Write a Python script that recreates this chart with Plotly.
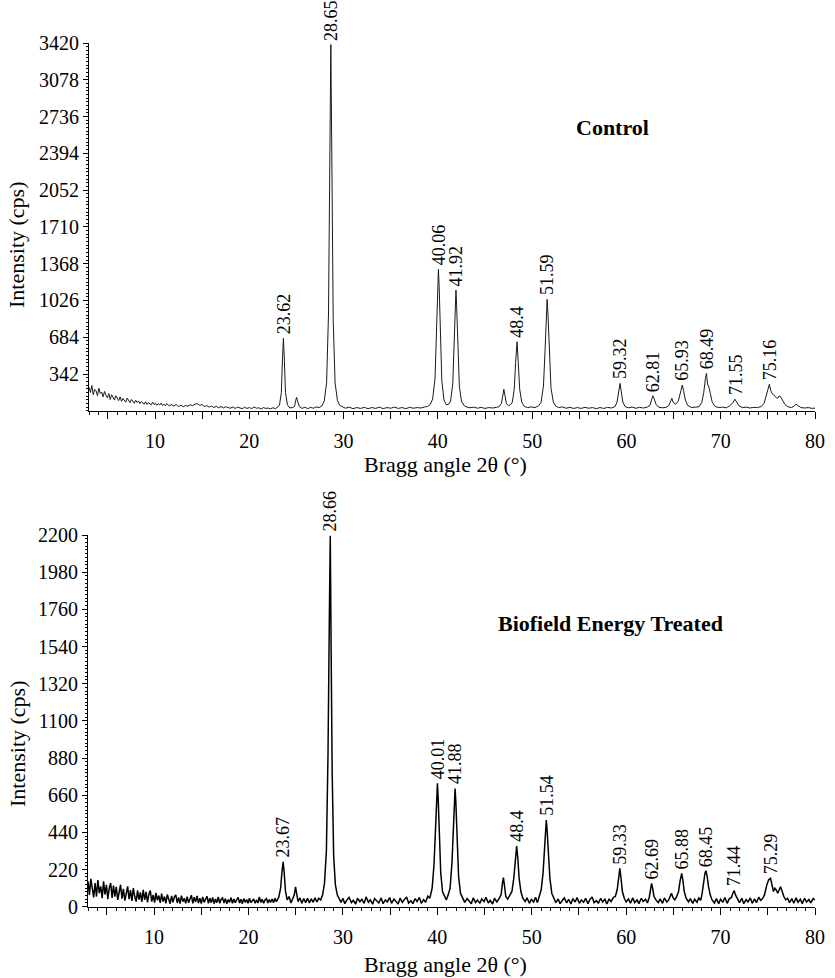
import plotly.graph_objects as go

# ---------------- Control pattern (2theta in degrees, intensity in cps) ----------------
ctrl_theta = [
    3.0, 3.15, 3.3, 3.45, 3.6, 3.75, 3.9, 4.05, 4.2, 4.35,
    4.5, 4.65, 4.8, 4.95, 5.1, 5.25, 5.4, 5.55, 5.7, 5.85,
    6.0, 6.15, 6.3, 6.45, 6.6, 6.75, 6.9, 7.05, 7.2, 7.35,
    7.5, 7.65, 7.8, 7.95, 8.1, 8.25, 8.4, 8.55, 8.7, 8.85,
    9.0, 9.15, 9.3, 9.45, 9.6, 9.75, 9.9, 10.05, 10.2, 10.35,
    10.5, 10.65, 10.8, 10.95, 11.1, 11.25, 11.4, 11.55, 11.7, 11.85,
    12.0, 12.25, 12.5, 12.75, 13.0, 13.25, 13.5, 13.75, 14.0, 14.25,
    14.5, 14.75, 15.0, 15.25, 15.5, 15.75, 16.0, 16.25, 16.5, 16.75,
    17.0, 17.25, 17.5, 17.75, 18.0, 18.25, 18.5, 18.75, 19.0, 19.25,
    19.5, 19.75, 20.0, 20.25, 20.5, 20.75, 21.0, 21.25, 21.5, 21.75,
    22.0, 22.25, 22.5,
    22.8, 23.2, 23.4, 23.52, 23.62, 23.72, 23.84, 24.05, 24.3, 24.6,
    24.8, 24.92, 25.02, 25.12, 25.3, 25.6, 25.9, 26.2, 26.5, 26.8,
    27.1, 27.4, 27.7, 27.95, 28.2, 28.4, 28.55, 28.65, 28.75, 28.9,
    29.1, 29.35, 29.6, 29.9, 30.2, 30.6, 31.0, 31.4, 31.8, 32.2,
    32.6, 33.0, 33.4, 33.8, 34.2, 34.6, 35.0, 35.4, 35.8, 36.2,
    36.6, 37.0, 37.4, 37.8, 38.2, 38.6, 38.9, 39.2, 39.45, 39.7,
    39.88, 40.0, 40.06, 40.14, 40.25, 40.42, 40.65, 40.9, 41.15, 41.35,
    41.58, 41.75, 41.86, 41.92, 41.99, 42.1, 42.28, 42.5, 42.8, 43.1,
    43.4, 43.8, 44.2, 44.6, 45.0, 45.4, 45.8, 46.2, 46.5, 46.75,
    46.9, 47.0, 47.1, 47.28, 47.5, 47.7, 47.9, 48.1, 48.25, 48.4,
    48.52, 48.68, 48.9, 49.15, 49.5, 49.9, 50.3, 50.7, 50.95, 51.2,
    51.38, 51.5, 51.59, 51.68, 51.82, 52.0, 52.25, 52.5, 52.8, 53.2,
    53.6, 54.0, 54.4, 54.8, 55.2, 55.6, 56.0, 56.4, 56.8, 57.2,
    57.6, 58.0, 58.4, 58.8, 59.0, 59.15, 59.32, 59.45, 59.62, 59.85,
    60.2, 60.6, 61.0, 61.4, 61.8, 62.2, 62.5, 62.65, 62.81, 62.95,
    63.15, 63.4, 63.8, 64.2, 64.5, 64.7, 64.82, 64.95, 65.2, 65.5,
    65.7, 65.85, 65.93, 66.05, 66.25, 66.5, 66.9, 67.3, 67.7, 68.0,
    68.2, 68.38, 68.49, 68.6, 68.75, 68.9, 69.1, 69.4, 69.8, 70.2,
    70.6, 70.9, 71.25, 71.5, 71.7, 71.95, 72.3, 72.7, 73.1, 73.5,
    73.9, 74.3, 74.6, 74.85, 75.0, 75.16, 75.3, 75.45, 75.6, 75.75,
    75.9, 76.05, 76.2, 76.35, 76.55, 76.8, 77.1, 77.5, 77.8, 78.0,
    78.2, 78.5, 78.9, 79.3, 79.7, 80.0,
]
ctrl_counts = [
    220, 170, 235, 150, 200, 185, 140, 210, 160, 175,
    130, 180, 145, 120, 160, 105, 150, 125, 100, 140,
    110, 95, 130, 88, 115, 100, 80, 118, 92, 76,
    105, 84, 70, 98, 78, 92, 66, 86, 74, 62,
    84, 60, 76, 68, 56, 80, 58, 70, 52, 66,
    54, 72, 50, 62, 46, 66, 52, 44, 60, 48,
    44, 58, 40, 52, 38, 50, 42, 56, 48, 62,
    66, 50, 58, 40, 48, 34, 44, 30, 42, 28,
    40, 26, 38, 30, 24, 36, 22, 34, 26, 20,
    33, 22, 30, 20, 36, 24, 28, 18, 30, 22,
    26, 18, 28,
    20, 50, 170, 480, 675, 470, 170, 55, 26, 32,
    40, 95, 125, 90, 40, 22, 34, 20, 32, 24,
    36, 30, 45, 90, 260, 900, 2500, 3405, 2400, 850,
    260, 95, 50, 36, 24, 34, 20, 30, 22, 32,
    20, 30, 22, 34, 20, 30, 24, 34, 22, 30,
    20, 32, 24, 30, 26, 36, 40, 60, 110, 300,
    750, 1200, 1315, 1150, 700, 280, 100, 55, 62, 90,
    250, 650, 1020, 1123, 980, 600, 230, 90, 46, 34,
    28, 34, 24, 32, 22, 30, 26, 32, 38, 70,
    150, 200, 150, 65, 48, 56, 80, 200, 450, 642,
    460, 200, 80, 42, 30, 36, 30, 48, 80, 230,
    580, 930, 1036, 900, 520, 210, 80, 44, 30, 36,
    24, 32, 22, 30, 22, 32, 24, 30, 20, 30,
    22, 32, 26, 40, 80, 180, 255, 180, 80, 40,
    28, 34, 24, 32, 26, 34, 50, 100, 140, 110,
    60, 34, 28, 32, 50, 90, 116, 80, 60, 90,
    160, 230, 240, 190, 100, 50, 30, 34, 38, 80,
    170, 300, 348, 250, 220, 160, 80, 40, 30, 34,
    28, 44, 70, 107, 80, 45, 30, 34, 26, 32,
    30, 40, 70, 150, 210, 246, 190, 160, 150, 130,
    120, 118, 138, 132, 100, 60, 38, 30, 44, 63,
    48, 30, 26, 30, 22, 26,
]
ctrl_peak_labels = ["23.62", "28.65", "40.06", "41.92", "48.4", "51.59",
                    "59.32", "62.81", "65.93", "68.49", "71.55", "75.16"]
ctrl_peak_pos = [23.62, 28.65, 40.06, 41.92, 48.4, 51.59,
                 59.32, 62.81, 65.93, 68.49, 71.55, 75.16]
ctrl_peak_height = [675, 3405, 1315, 1123, 642, 1036, 255, 140, 240, 348, 107, 246]

# ---------------- Biofield Energy Treated pattern ----------------
trt_theta = [
    3.0, 3.15, 3.3, 3.45, 3.6, 3.75, 3.9, 4.05, 4.2, 4.35,
    4.5, 4.65, 4.8, 4.95, 5.1, 5.25, 5.4, 5.55, 5.7, 5.85,
    6.0, 6.15, 6.3, 6.45, 6.6, 6.75, 6.9, 7.05, 7.2, 7.35,
    7.5, 7.65, 7.8, 7.95, 8.1, 8.25, 8.4, 8.55, 8.7, 8.85,
    9.0, 9.15, 9.3, 9.45, 9.6, 9.75, 9.9, 10.05, 10.2, 10.35,
    10.5, 10.65, 10.8, 10.95, 11.1, 11.25, 11.4, 11.55, 11.7, 11.85,
    12.0, 12.15, 12.3, 12.45, 12.6, 12.75, 12.9, 13.05, 13.2, 13.35,
    13.5, 13.65, 13.8, 13.95, 14.1, 14.25, 14.4, 14.55, 14.7, 14.85,
    15.0, 15.15, 15.3, 15.45, 15.6, 15.75, 15.9, 16.05, 16.2, 16.35,
    16.5, 16.65, 16.8, 16.95, 17.1, 17.25, 17.4, 17.55, 17.7, 17.85,
    18.0, 18.15, 18.3, 18.45, 18.6, 18.75, 18.9, 19.05, 19.2, 19.35,
    19.5, 19.65, 19.8, 19.95, 20.1, 20.25, 20.4, 20.55, 20.7, 20.85,
    21.0, 21.15, 21.3, 21.45, 21.6, 21.75, 21.9, 22.05, 22.2, 22.35,
    22.5, 22.65, 22.8, 22.95, 23.2, 23.4,
    23.55, 23.67, 23.78, 23.92, 24.1, 24.3, 24.5, 24.7, 24.85, 24.98,
    25.1, 25.25, 25.45, 25.65, 25.85, 26.05, 26.25, 26.45, 26.65, 26.85,
    27.05, 27.25, 27.45, 27.65, 27.85, 28.05, 28.25, 28.42, 28.56, 28.66,
    28.74, 28.86, 29.02, 29.2, 29.4, 29.6, 29.8, 30.0, 30.2, 30.45,
    30.65, 30.9, 31.1, 31.35, 31.55, 31.8, 32.0, 32.25, 32.45, 32.7,
    32.9, 33.15, 33.35, 33.6, 33.8, 34.05, 34.25, 34.5, 34.7, 34.95,
    35.15, 35.4, 35.6, 35.85, 36.05, 36.3, 36.5, 36.75, 36.95, 37.2,
    37.4, 37.65, 37.85, 38.1, 38.3, 38.55, 38.75, 39.0, 39.2, 39.45,
    39.65, 39.82, 39.93, 40.01, 40.09, 40.2, 40.36, 40.55, 40.75, 40.95,
    41.15, 41.35, 41.55, 41.7, 41.8, 41.88, 41.96, 42.08, 42.25, 42.45,
    42.7, 42.9, 43.15, 43.35, 43.6, 43.8, 44.05, 44.25, 44.5, 44.7,
    44.95, 45.15, 45.4, 45.6, 45.85, 46.05, 46.3, 46.5, 46.75, 46.9,
    47.0, 47.1, 47.25, 47.45, 47.7, 47.9, 48.1, 48.25, 48.4, 48.52,
    48.66, 48.85, 49.05, 49.3, 49.5, 49.75, 49.95, 50.2, 50.4, 50.6,
    50.8, 51.0, 51.2, 51.35, 51.46, 51.54, 51.63, 51.76, 51.92, 52.12,
    52.35, 52.55, 52.8, 53.0, 53.25, 53.45, 53.7, 53.9, 54.15, 54.35,
    54.6, 54.8, 55.05, 55.25, 55.5, 55.7, 55.95, 56.15, 56.4, 56.6,
    56.85, 57.05, 57.3, 57.5, 57.75, 57.95, 58.2, 58.4, 58.65, 58.85,
    59.05, 59.2, 59.33, 59.45, 59.6, 59.8, 60.0, 60.25, 60.45, 60.7,
    60.9, 61.15, 61.35, 61.6, 61.8, 62.05, 62.25, 62.45, 62.6, 62.69,
    62.8, 62.95, 63.15, 63.4, 63.6, 63.85, 64.05, 64.3, 64.5, 64.68,
    64.8, 64.95, 65.15, 65.35, 65.55, 65.7, 65.8, 65.88, 66.0, 66.15,
    66.35, 66.6, 66.8, 67.05, 67.25, 67.5, 67.7, 67.9, 68.05, 68.2,
    68.35, 68.45, 68.58, 68.72, 68.9, 69.1, 69.35, 69.55, 69.8, 70.0,
    70.25, 70.45, 70.7, 70.9, 71.15, 71.3, 71.44, 71.58, 71.8, 72.0,
    72.25, 72.45, 72.7, 72.9, 73.15, 73.35, 73.6, 73.8, 74.05, 74.25,
    74.45, 74.65, 74.9, 75.1, 75.29, 75.45, 75.6, 75.75, 75.9, 76.05,
    76.2, 76.35, 76.5, 76.7, 76.9, 77.1, 77.3, 77.55, 77.75, 78.0,
    78.2, 78.45, 78.65, 78.9, 79.1, 79.35, 79.55, 79.8, 80.0,
]
trt_counts = [
    150, 70, 165, 95, 55, 140, 60, 158, 80, 120,
    50, 150, 72, 130, 45, 110, 140, 52, 125, 60,
    118, 40, 95, 130, 48, 105, 36, 90, 120, 45,
    98, 34, 110, 60, 30, 96, 42, 85, 28, 100,
    40, 88, 26, 75, 95, 30, 70, 24, 82, 38,
    66, 22, 78, 30, 60, 20, 72, 44, 18, 64,
    26, 58, 70, 22, 55, 18, 66, 30, 50, 20,
    60, 24, 52, 68, 20, 56, 28, 64, 22, 50,
    18, 58, 26, 48, 62, 20, 50, 24, 55, 18,
    46, 24, 58, 20, 44, 52, 22, 48, 18, 42,
    26, 54, 20, 46, 24, 40, 55, 22, 44, 18,
    48, 26, 42, 20, 50, 24, 38, 46, 20, 40,
    22, 58, 26, 44, 20, 40, 48, 22, 42, 26,
    46, 24, 50, 30, 55, 110,
    210, 266, 200, 90, 40, 60, 22, 45, 70, 118,
    75, 30, 52, 20, 48, 24, 50, 22, 46, 26,
    52, 28, 50, 40, 70, 140, 330, 900, 1700, 2195,
    1600, 800, 300, 130, 70, 48, 26, 50, 18, 42,
    55, 24, 38, 16, 50, 30, 44, 20, 58, 26,
    40, 15, 48, 34, 22, 52, 18, 40, 28, 54,
    20, 45, 32, 16, 50, 26, 42, 58, 22, 36,
    18, 48, 30, 55, 20, 42, 26, 62, 50, 110,
    250, 480, 660, 730, 640, 420, 200, 90, 60, 40,
    70, 110, 260, 480, 640, 700, 620, 400, 180, 80,
    55, 26, 48, 34, 18, 52, 24, 40, 20, 46,
    30, 56, 22, 38, 16, 50, 28, 44, 70, 140,
    172, 130, 60, 45, 70, 90, 170, 280, 359, 290,
    170, 90, 50, 30, 52, 20, 44, 28, 56, 24,
    60, 100, 200, 360, 470, 513, 450, 320, 170, 80,
    50, 24, 46, 18, 38, 52, 22, 44, 16, 48,
    28, 54, 20, 40, 26, 50, 18, 42, 58, 24,
    36, 20, 50, 28, 44, 16, 46, 30, 55, 60,
    100, 180, 227, 170, 90, 50, 28, 46, 20, 52,
    24, 40, 18, 50, 30, 44, 22, 56, 120, 138,
    110, 60, 40, 24, 46, 20, 52, 28, 40, 65,
    79, 55, 40, 60, 90, 150, 190, 197, 160, 90,
    50, 28, 48, 20, 44, 26, 52, 38, 80, 150,
    200, 213, 180, 120, 70, 40, 22, 48, 18, 44,
    26, 54, 20, 45, 55, 80, 95, 70, 40, 24,
    50, 18, 42, 28, 52, 20, 46, 24, 56, 38,
    48, 70, 130, 160, 168, 120, 90, 110, 99, 80,
    105, 118, 95, 60, 40, 50, 24, 48, 20, 52,
    26, 44, 18, 50, 28, 42, 22, 48, 40,
]
trt_peak_labels = ["23.67", "28.66", "40.01", "41.88", "48.4", "51.54",
                   "59.33", "62.69", "65.88", "68.45", "71.44", "75.29"]
trt_peak_pos = [23.67, 28.66, 40.01, 41.88, 48.4, 51.54,
                59.33, 62.69, 65.88, 68.45, 71.44, 75.29]
trt_peak_height = [266, 2195, 730, 700, 359, 513, 227, 138, 197, 213, 95, 168]

# ---------------- Axis ticks ----------------
x_tick_vals = [5, 10, 15, 20, 25, 30, 35, 40, 45, 50, 55, 60, 65, 70, 75, 80]
x_tick_text = ["", "10", "", "20", "", "30", "", "40", "", "50", "", "60", "", "70", "", "80"]
ctrl_y_ticks = [342, 684, 1026, 1368, 1710, 2052, 2394, 2736, 3078, 3420]
trt_y_ticks = [0, 220, 440, 660, 880, 1100, 1320, 1540, 1760, 1980, 2200]

assert len(ctrl_theta) == len(ctrl_counts), (len(ctrl_theta), len(ctrl_counts))
assert len(trt_theta) == len(trt_counts), (len(trt_theta), len(trt_counts))

FONT = "Liberation Serif"
W, H = 835, 978

fig = go.Figure()
fig.add_trace(go.Scatter(x=ctrl_theta, y=ctrl_counts, mode="lines",
                         line=dict(color="#1a1a1a", width=1), xaxis="x", yaxis="y",
                         showlegend=False, hoverinfo="skip"))
fig.add_trace(go.Scatter(x=trt_theta, y=trt_counts, mode="lines",
                         line=dict(color="#000000", width=1.5), xaxis="x2", yaxis="y2",
                         showlegend=False, hoverinfo="skip"))


def xaxis_cfg(domain, anchor):
    return dict(domain=domain, anchor=anchor, range=[3, 80], showline=True,
                linecolor="black", linewidth=1, showgrid=False, zeroline=False,
                automargin=False,
                tickmode="array", tickvals=x_tick_vals, ticktext=x_tick_text,
                ticks="outside", ticklen=7, tickcolor="black", tickwidth=1,
                minor=dict(dtick=1, tick0=0, ticks="outside", ticklen=3,
                           tickcolor="black", tickwidth=1),
                tickfont=dict(family=FONT, size=20, color="black"),
                ticklabelstandoff=5)


def yaxis_cfg(domain, anchor, rng, vals, minor_step):
    return dict(domain=domain, anchor=anchor, range=rng, showline=True,
                linecolor="black", linewidth=1, showgrid=False, zeroline=False,
                automargin=False,
                tickmode="array", tickvals=vals,
                ticks="outside", ticklen=5, tickcolor="black", tickwidth=1,
                minor=dict(dtick=minor_step, tick0=0, ticks="outside", ticklen=2,
                           tickcolor="black", tickwidth=1),
                tickfont=dict(family=FONT, size=20, color="black"))


fig.update_layout(
    width=W, height=H, autosize=False,
    margin=dict(l=0, r=0, t=0, b=0, pad=0),
    paper_bgcolor="white", plot_bgcolor="white",
    xaxis=xaxis_cfg([89 / W, 815 / W], "y"),
    yaxis=yaxis_cfg([1 - 410.8 / H, 1 - 43 / H], "x", [0, 3420], ctrl_y_ticks, 34.2),
    xaxis2=xaxis_cfg([88 / W, 815 / W], "y2"),
    yaxis2=yaxis_cfg([1 - 906.7 / H, 1 - 535 / H], "x2", [0, 2200], trt_y_ticks, 22),
)

annotations = []
for lab, px, py in zip(ctrl_peak_labels, ctrl_peak_pos, ctrl_peak_height):
    annotations.append(dict(x=px, y=py, xref="x", yref="y", text=lab, showarrow=False,
                            textangle=-90, xanchor="center", yanchor="bottom", yshift=2,
                            font=dict(family=FONT, size=18, color="black")))
for lab, px, py in zip(trt_peak_labels, trt_peak_pos, trt_peak_height):
    annotations.append(dict(x=px, y=py, xref="x2", yref="y2", text=lab, showarrow=False,
                            textangle=-90, xanchor="center", yanchor="bottom", yshift=2,
                            font=dict(family=FONT, size=18, color="black")))

title_font = dict(family=FONT, size=22, color="black")
for yc in (245, 744):
    annotations.append(dict(x=17 / W, y=1 - yc / H, xref="paper", yref="paper",
                            text="Intensity (cps)", textangle=-90, showarrow=False,
                            xanchor="center", yanchor="middle", font=title_font))
for yc in (464, 964):
    annotations.append(dict(x=445 / W, y=1 - yc / H, xref="paper", yref="paper",
                            text="Bragg angle 2θ (°)", showarrow=False,
                            xanchor="center", yanchor="middle", font=title_font))
annotations.append(dict(x=612 / W, y=1 - 127 / H, xref="paper", yref="paper",
                        text="<b>Control</b>", showarrow=False, xanchor="center",
                        yanchor="middle", font=dict(family=FONT, size=22, color="black")))
annotations.append(dict(x=610 / W, y=1 - 623 / H, xref="paper", yref="paper",
                        text="<b>Biofield Energy Treated</b>", showarrow=False,
                        xanchor="center", yanchor="middle",
                        font=dict(family=FONT, size=22, color="black")))

fig.update_layout(annotations=annotations)
fig.write_html("out.html")
